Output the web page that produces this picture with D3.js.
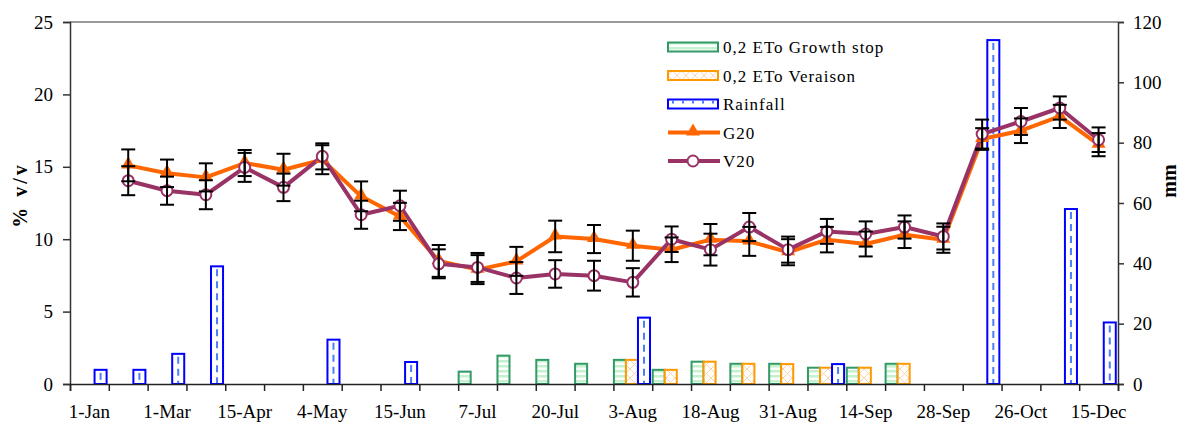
<!DOCTYPE html>
<html lang="en">
<head>
<meta charset="UTF-8">
<title>Soil water content and rainfall</title>
<script src="https://cdn.jsdelivr.net/npm/d3@7"></script>
<style>
  body { margin: 0; background: #fff; }
  svg { font-family: "Liberation Serif", "Times New Roman", serif; }
</style>
</head>
<body>
<div id="chart"></div>
<script>
// category labels, only every second slot is labelled on the axis
const tickLabels = ["1-Jan", "", "1-Mar", "", "15-Apr", "", "4-May", "", "15-Jun", "", "7-Jul", "", "20-Jul", "",
  "3-Aug", "", "18-Aug", "", "31-Aug", "", "14-Sep", "", "28-Sep", "", "26-Oct", "", "15-Dec"];
const categories = tickLabels.map((d, i) => i);

// soil water content, % v/v (left axis)
const g20 = [null, 15.1, 14.55, 14.27, 15.26, 14.8, 15.49, 12.96, 11.57, 8.5, 7.9, 8.47, 10.19, 10.01, 9.55,
  9.27, 9.97, 9.85, 9.1, 9.97, 9.67, 10.31, 9.96, 16.92, 17.49, 18.48, 16.53];
const g20Err = [null, 1.1, 0.95, 0.97, 0.9, 1.1, 1.0, 1.03, 0.94, 1.1, 1.0, 1.0, 1.09, 0.97, 1.04,
  0.85, 1.08, 1.0, 0.9, 0.88, 0.86, 0.92, 0.9, 0.75, 0.85, 0.8, 0.8];
const v20 = [null, 14.04, 13.35, 13.07, 14.96, 13.58, 15.72, 11.69, 12.31, 8.3, 8.05, 7.32, 7.6, 7.48, 7.02,
  10.0, 9.28, 10.84, 9.28, 10.54, 10.36, 10.84, 10.19, 17.26, 18.13, 19.06, 16.87];
const v20Err = [null, 1.0, 0.97, 1.0, 1.0, 0.95, 0.9, 0.97, 1.04, 1.0, 1.0, 1.1, 0.95, 1.03, 0.98,
  0.88, 1.1, 0.97, 0.9, 0.86, 0.87, 0.8, 0.9, 1.0, 0.93, 0.8, 0.85];

// irrigation and rain, mm (right axis)
const growthStop = [null, null, null, null, null, null, null, null, null, null, 4.1, 9.4, 8.0, 6.7, 8.0,
  4.7, 7.4, 6.7, 6.7, 5.4, 5.4, 6.7, null, null, null, null, null];
const veraison = [null, null, null, null, null, null, null, null, null, null, null, null, null, null, 8.0,
  4.7, 7.4, 6.7, 6.6, 5.4, 5.4, 6.7, null, null, null, null, null];
const rainfall = [4.7, 4.7, 10, 39, null, null, 14.7, null, 7.3, null, null, null, null, null, 22,
  null, null, null, null, 6.6, null, null, null, 114, null, 58, 20.4];

const leftTicks = [0, 5, 10, 15, 20, 25];
const rightTicks = [0, 20, 40, 60, 80, 100, 120];

const W = 1181, H = 425;
const m = {top: 22, right: 63, bottom: 41, left: 70};

const svg = d3.select("#chart").append("svg")
  .attr("width", W).attr("height", H);

const defs = svg.append("defs");
const stripes = defs.append("pattern").attr("id", "stripes")
  .attr("patternUnits", "userSpaceOnUse").attr("width", 4).attr("height", 5);
stripes.append("rect").attr("width", 4).attr("height", 5).attr("fill", "#fff");
stripes.append("rect").attr("width", 4).attr("height", 2.5).attr("fill", "#c4f2cf");
const hatch = defs.append("pattern").attr("id", "hatch")
  .attr("patternUnits", "userSpaceOnUse").attr("width", 9).attr("height", 9);
hatch.append("rect").attr("width", 9).attr("height", 9).attr("fill", "#fff");
hatch.append("path").attr("d", "M0,0L9,9M9,0L0,9").attr("stroke", "#ffd3a8").attr("stroke-width", 1);

const x = d3.scaleBand().domain(categories).range([m.left, W - m.right]).padding(0);
const xEdge = d3.scaleLinear().domain([0, categories.length]).range([m.left, W - m.right]);
const barKeys = ["growth", "veraison", "rain"];
const xSub = d3.scaleBand().domain(barKeys).range([0.5, x.bandwidth() * 0.93 + 0.5]);
const yL = d3.scaleLinear().domain([0, 25]).range([H - m.bottom, m.top]);
const yR = d3.scaleLinear().domain([0, 120]).range([H - m.bottom, m.top]);

// top frame line
svg.append("line")
  .attr("x1", m.left).attr("x2", W - m.right)
  .attr("y1", m.top).attr("y2", m.top)
  .attr("stroke", "#999").attr("stroke-width", 2);

// bars
const barStyle = {
  growth: {fill: "url(#stripes)", stroke: "#339966"},
  veraison: {fill: "url(#hatch)", stroke: "#ff9900"},
  rain: {fill: "#fff", stroke: "#0000ff"}
};
const barData = [];
categories.forEach(i => {
  if (growthStop[i]) barData.push({i: i, key: "growth", v: growthStop[i]});
  if (veraison[i]) barData.push({i: i, key: "veraison", v: veraison[i]});
  if (rainfall[i]) barData.push({i: i, key: "rain", v: rainfall[i]});
});

svg.append("g").selectAll("rect")
  .data(barData)
  .join("rect")
    .attr("x", d => x(d.i) + xSub(d.key))
    .attr("y", d => yR(d.v))
    .attr("width", xSub.bandwidth())
    .attr("height", d => yR(0) - yR(d.v))
    .attr("fill", d => barStyle[d.key].fill)
    .attr("stroke", d => barStyle[d.key].stroke)
    .attr("stroke-width", 2);

// dashed centre line inside the rain bars
svg.append("g").selectAll("line")
  .data(barData.filter(d => d.key == "rain"))
  .join("line")
    .attr("x1", d => x(d.i) + xSub(d.key) + xSub.bandwidth() / 2)
    .attr("x2", d => x(d.i) + xSub(d.key) + xSub.bandwidth() / 2)
    .attr("y1", d => yR(d.v) + 3)
    .attr("y2", d => yR(0) - 1)
    .attr("stroke", "#4d7dff")
    .attr("stroke-width", 2)
    .attr("stroke-dasharray", "7,5");

// axes
const axisFont = g => g.selectAll("text").attr("font-size", 19).attr("fill", "#000")
  .attr("font-family", "Liberation Serif, Times New Roman, serif");

svg.append("g")
  .attr("transform", "translate(" + m.left + ",0)")
  .call(d3.axisLeft(yL).tickValues(leftTicks).tickSize(7).tickPadding(10))
  .call(axisFont)
  .call(g => g.select(".domain").attr("stroke", "#333").attr("stroke-width", 1.5))
  .call(g => g.selectAll(".tick line").attr("stroke", "#333").attr("stroke-width", 1.5));

svg.append("g")
  .attr("transform", "translate(" + (W - m.right) + ",0)")
  .call(d3.axisRight(yR).tickValues(rightTicks).tickSize(6).tickPadding(9))
  .call(axisFont)
  .call(g => g.select(".domain").attr("stroke", "#333").attr("stroke-width", 1.5))
  .call(g => g.selectAll(".tick line").attr("stroke", "#333").attr("stroke-width", 1.5));

svg.append("g")
  .attr("transform", "translate(0," + (H - m.bottom) + ")")
  .call(d3.axisBottom(xEdge).tickValues(d3.range(categories.length + 1)).tickFormat("").tickSize(7))
  .call(g => g.select(".domain").attr("stroke", "#222").attr("stroke-width", 1.5))
  .call(g => g.selectAll(".tick line").attr("stroke", "#222").attr("stroke-width", 1.5));

svg.append("g")
  .attr("transform", "translate(0," + (H - m.bottom) + ")")
  .call(d3.axisBottom(x).tickFormat(i => tickLabels[i]).tickSize(0).tickPadding(21))
  .call(axisFont)
  .call(g => g.select(".domain").remove());

// axis titles
svg.append("text")
  .attr("transform", "translate(27,195) rotate(-90)")
  .attr("text-anchor", "middle")
  .attr("font-size", 20).attr("font-weight", "bold").attr("letter-spacing", 3)
  .text("% v/v");
svg.append("text")
  .attr("transform", "translate(1176,181) rotate(-90)")
  .attr("text-anchor", "middle")
  .attr("font-size", 20).attr("font-weight", "bold")
  .text("mm");

// lines, markers, error bars
const lineGen = arr => d3.line()
  .defined(i => arr[i] != null)
  .x(i => x(i) + x.bandwidth() / 2)
  .y(i => yL(arr[i]));

const series = [
  {name: "G20", vals: g20, err: g20Err, color: "#ff6600", marker: "tri"},
  {name: "V20", vals: v20, err: v20Err, color: "#993366", marker: "circle"}
];

series.forEach(s => {
  svg.append("path")
    .attr("d", lineGen(s.vals)(categories))
    .attr("fill", "none")
    .attr("stroke", s.color)
    .attr("stroke-width", 4)
    .attr("stroke-linejoin", "round");
});

series.forEach(s => {
  const pts = categories.filter(i => s.vals[i] != null);
  const g = svg.append("g");
  if (s.marker == "tri") {
    g.selectAll("path").data(pts).join("path")
      .attr("d", d3.symbol(d3.symbolTriangle, 85))
      .attr("transform", i => "translate(" + (x(i) + x.bandwidth() / 2) + "," + (yL(s.vals[i]) - 1) + ")")
      .attr("fill", s.color);
  } else {
    g.selectAll("circle").data(pts).join("circle")
      .attr("cx", i => x(i) + x.bandwidth() / 2)
      .attr("cy", i => yL(s.vals[i]))
      .attr("r", 5.5)
      .attr("fill", "#fff")
      .attr("stroke", s.color)
      .attr("stroke-width", 2);
  }
});

series.forEach(s => {
  const pts = categories.filter(i => s.vals[i] != null);
  const g = svg.append("g").attr("stroke", "#000").attr("stroke-width", 2);
  const cx = i => x(i) + x.bandwidth() / 2;
  g.selectAll(".stem").data(pts).join("line")
    .attr("x1", cx).attr("x2", cx)
    .attr("y1", i => yL(s.vals[i] + s.err[i]))
    .attr("y2", i => yL(s.vals[i] - s.err[i]));
  [1, -1].forEach(sign => {
    g.selectAll(".cap" + sign).data(pts).join("line")
      .attr("x1", i => cx(i) - 7).attr("x2", i => cx(i) + 7)
      .attr("y1", i => yL(s.vals[i] + sign * s.err[i]))
      .attr("y2", i => yL(s.vals[i] + sign * s.err[i]));
  });
});

// legend
const legendItems = ["0,2 ETo Growth stop", "0,2 ETo Veraison", "Rainfall", "G20", "V20"];
const lg = svg.append("g").attr("transform", "translate(668,47)");
legendItems.forEach((name, k) => {
  const row = lg.append("g").attr("transform", "translate(0," + (k * 28.5) + ")");
  if (k < 3) {
    const st = barStyle[barKeys[k]];
    row.append("rect").attr("x", 0).attr("y", -4.5).attr("width", 50).attr("height", 9)
      .attr("fill", st.fill).attr("stroke", st.stroke).attr("stroke-width", 2);
    if (k == 2) {
      row.append("line").attr("x1", 4).attr("x2", 48).attr("y1", -2).attr("y2", -2)
        .attr("stroke", "#4d7dff").attr("stroke-width", 3).attr("stroke-dasharray", "2,8");
    }
  } else {
    const s = series[k - 3];
    row.append("line").attr("x1", 0).attr("x2", 52).attr("y1", 0).attr("y2", 0)
      .attr("stroke", s.color).attr("stroke-width", 4);
    if (s.marker == "tri") {
      row.append("path").attr("d", d3.symbol(d3.symbolTriangle, 85))
        .attr("transform", "translate(25,-1)").attr("fill", s.color);
    } else {
      row.append("circle").attr("cx", 25).attr("cy", 0).attr("r", 5.5)
        .attr("fill", "#fff").attr("stroke", s.color).attr("stroke-width", 2);
    }
  }
  row.append("text").attr("x", 55).attr("y", 6)
    .attr("font-size", 17).attr("letter-spacing", 1)
    .text(name);
});
</script>
</body>
</html>
